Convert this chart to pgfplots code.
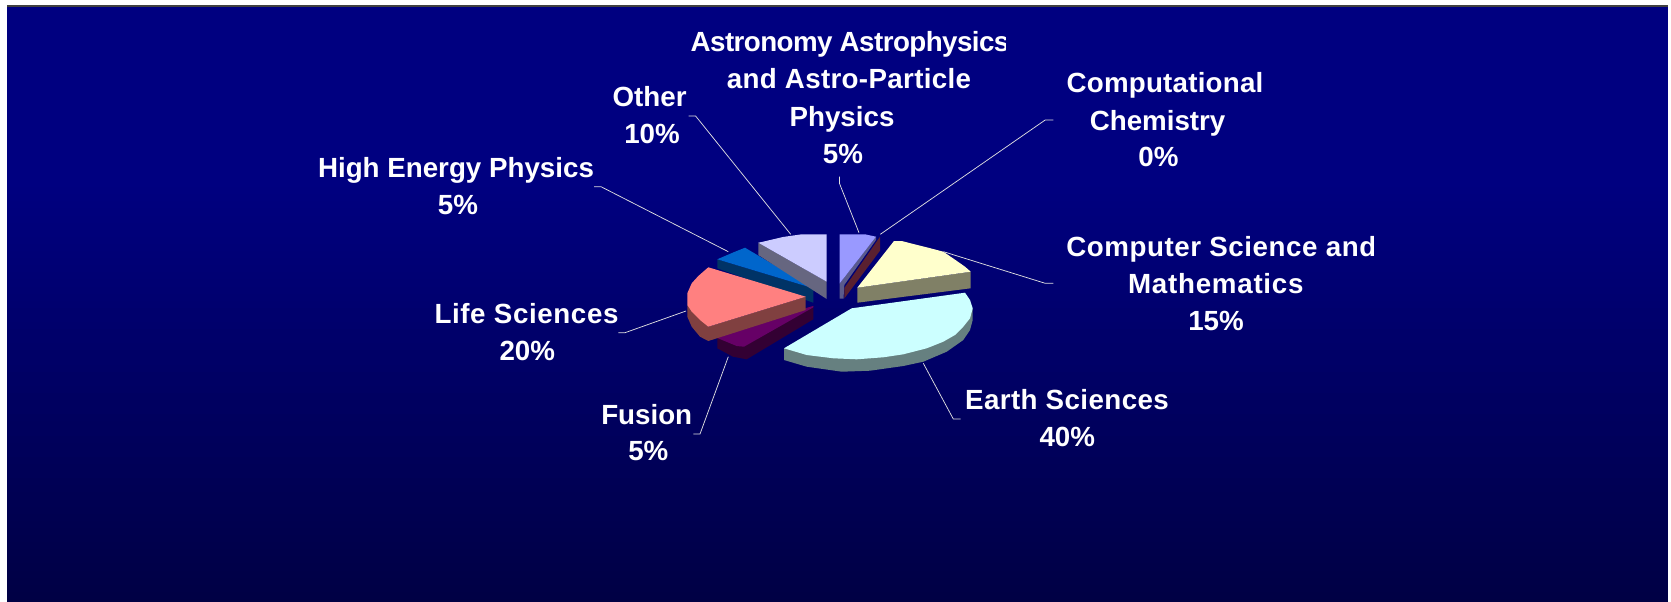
\documentclass[border=0pt]{standalone}
\usepackage{fontspec}
\setmainfont{Liberation Sans}
\usepackage{pgfplots}
\pgfplotsset{compat=1.18}
\definecolor{bgtop}{HTML}{000080}
\definecolor{bgbot}{HTML}{000044}
\definecolor{hepS}{RGB}{0,51,102}\definecolor{hepT}{RGB}{0,102,204}
\definecolor{othS}{RGB}{102,102,128}\definecolor{othT}{RGB}{204,204,255}
\definecolor{chmS}{RGB}{90,32,48}
\definecolor{astS}{RGB}{90,90,140}\definecolor{astT}{RGB}{153,153,255}
\definecolor{csS}{RGB}{128,128,102}\definecolor{csT}{RGB}{255,255,204}
\definecolor{fusS}{RGB}{51,0,51}\definecolor{fusT}{RGB}{102,0,102}
\definecolor{lifS}{RGB}{128,64,64}\definecolor{lifT}{RGB}{255,128,128}
\definecolor{eaS}{RGB}{102,128,128}\definecolor{eaT}{RGB}{204,255,255}
\definecolor{leader}{RGB}{224,224,224}
\newcommand{\chartlab}[4][0]{\node[anchor=base,inner sep=0pt,text=white] at (axis cs:#2,#3+0.7) {\fontsize{20.8}{25}\selectfont\bfseries\addfontfeature{LetterSpace=#1}#4};}
\begin{document}
\begin{tikzpicture}
\begin{axis}[
  scale only axis, width=1253.25pt, height=450.75pt,
  xmin=0, xmax=1671, ymin=0, ymax=601, y dir=reverse,
  hide axis, clip=false]
\path[fill=white] (axis cs:0,0) rectangle (axis cs:1671,601);
\path[fill=bgtop] (axis cs:7,6) rectangle (axis cs:1668,181);
\pgfplotsinvokeforeach{0,...,59}{
  \path[fill=bgbot!\the\numexpr #1*100/59\relax!bgtop] (axis cs:7,180+#1*7.1) rectangle (axis cs:1668,601.6);
}
\path[fill=black!75] (axis cs:7,5.5) rectangle (axis cs:1668,7);
% High Energy Physics 5
\addplot[draw=none,fill=hepS] coordinates {(717.3,259.3)(813.3,288.3)(813.3,302.7)(717.3,268.3)};
\addplot[draw=none,fill=hepT] coordinates {(745,247.7)(813.3,288.3)(717.3,259.3)(723.3,256.7)(735,251.7)};
% Other 10
\addplot[draw=none,fill=othS] coordinates {(758.3,242.7)(826.7,281.7)(826.7,299)(758.3,255)};
\addplot[draw=none,fill=othT] coordinates {(826.7,234.3)(826.7,281.7)(758.3,242.7)(763,241.7)(783,237)(801.7,234.3)};
% Computational Chemistry 0
\addplot[draw=none,fill=chmS] coordinates {(880,236.7)(844.3,288)(844.3,298.5)(880,250.7)};
% Astronomy 5
\addplot[draw=none,fill=astS] coordinates {(839.7,283.3)(876,236.7)(876,240)(844.3,285)(843.5,298.5)(839.7,298.5)};
\addplot[draw=none,fill=astT] coordinates {(839.7,234.3)(865,234.3)(876,236.7)(839.7,283.3)};
% Computer Science 15
\addplot[draw=none,fill=csS] coordinates {(857.3,287.7)(970.7,271.7)(970.7,288.3)(857.3,302.7)};
\addplot[draw=none,fill=csT] coordinates {(894,241)(901.7,241)(913.3,244)(926.7,247.3)(943.3,251.7)(953,258.3)(965,266.7)(970.7,271.7)(857.3,287.7)};
% Fusion 5
\addplot[draw=none,fill=fusS] coordinates {(813.3,306)(717.3,333.3)(717.3,348.3)(733,356.7)(746.7,359.3)(813.3,319.3)};
\addplot[draw=none,fill=fusT] coordinates {(813.3,306)(717.3,333.3)(717.3,338)(736.7,346)(744,346.7)(813.3,307.3)};
% Life Sciences 20
\addplot[draw=none,fill=lifS] coordinates {(805.7,296.7)(805.7,310)(708.3,341)(700,336.7)(691.7,326.7)(687.3,316.7)(687.3,305)(708.3,326.7)};
\addplot[draw=none,fill=lifT] coordinates {(708.3,267.3)(805.7,296.7)(708.3,326.7)(700,320)(691.7,311.7)(687.3,305)(687.3,293.3)(691.7,283.3)(698.3,276)};
% Earth Sciences 40
\addplot[draw=none,fill=eaS] coordinates {(784,348.3)(784,360)(806.7,366.7)(841.7,371.7)(870,370.7)(903.3,366)(923.3,361.7)(946.7,351.7)(963.3,340)(970,330)(972.7,320)(972.7,308.3)};
\addplot[draw=none,fill=eaT] coordinates {(965,292.7)(970,300)(972.7,308.3)(970,318.3)(963.3,326.7)(955,335)(943.3,341.7)(926.7,348.3)(903.3,354.3)(883.3,357.3)(856.7,359.3)(833.3,358.3)(806.7,355)(784,348.3)(851.7,308.3)};
% leaders
\addplot[no marks,draw=leader,line width=0.55pt] coordinates {(688.6,116)(695.6,116)(790.7,234.3)};
\addplot[no marks,draw=leader,line width=0.55pt] coordinates {(594,186.7)(601,186.7)(728.3,251.7)};
\addplot[no marks,draw=leader,line width=0.55pt] coordinates {(839.5,176.7)(839.5,183.5)(859,232.7)};
\addplot[no marks,draw=leader,line width=0.55pt] coordinates {(1053.3,120)(1045.2,120)(880.3,234.3)};
\addplot[no marks,draw=leader,line width=0.55pt] coordinates {(1053.3,283.3)(1045.2,283.3)(943.5,251.7)};
\addplot[no marks,draw=leader,line width=0.55pt] coordinates {(618.3,332.7)(625,332.7)(686,311)};
\addplot[no marks,draw=leader,line width=0.55pt] coordinates {(693.3,434)(700,434)(728.3,356.7)};
\addplot[no marks,draw=leader,line width=0.55pt] coordinates {(960.7,419)(953.3,419)(923.3,363.3)};
% labels
\chartlab{456}{176.7}{High Energy Physics}
\chartlab{458}{214}{5\%}
\chartlab{649.6}{106}{Other}
\chartlab{652}{142.3}{10\%}
\begin{scope}
\clip (axis cs:600,20) rectangle (axis cs:1005.6,60);
\chartlab[-2]{850}{51}{Astronomy Astrophysics}
\end{scope}
\chartlab[1.2]{849}{87.6}{and Astro-Particle}
\chartlab{842}{125.7}{Physics}
\chartlab{843}{162.7}{5\%}
\begin{scope}
\clip (axis cs:1040,60) rectangle (axis cs:1262,100);
\chartlab[0.8]{1165}{92}{Computational}
\end{scope}
\chartlab{1157.6}{130}{Chemistry}
\chartlab{1158.5}{165.7}{0\%}
\begin{scope}
\clip (axis cs:1040,225) rectangle (axis cs:1373,265);
\chartlab[2]{1221.3}{256}{Computer Science and}
\end{scope}
\chartlab[2.7]{1215.8}{292.7}{Mathematics}
\chartlab{1216}{329.3}{15\%}
\chartlab[2.2]{526.5}{322.7}{Life Sciences}
\chartlab{527.3}{359.3}{20\%}
\chartlab{646.7}{423.3}{Fusion}
\chartlab{648.3}{460}{5\%}
\chartlab[1.5]{1067}{408.3}{Earth Sciences}
\chartlab{1067.3}{445.7}{40\%}
\end{axis}
\end{tikzpicture}
\end{document}
